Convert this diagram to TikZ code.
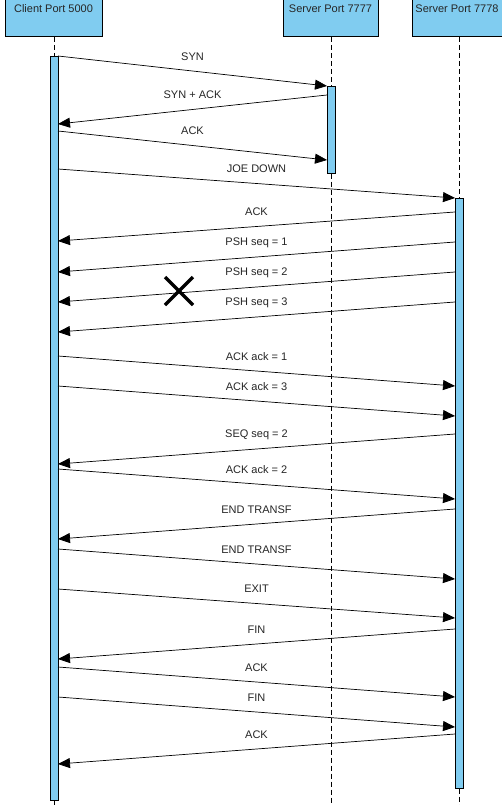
\documentclass[tikz,border=0pt]{standalone}
\usepackage{fontspec}
\setmainfont{Liberation Sans}
\usetikzlibrary{arrows.meta}
\definecolor{lifeblue}{RGB}{128,204,240}
\begin{document}
\begin{tikzpicture}[x=1bp,y=-1bp,
  head/.style={draw=black, fill=lifeblue, line width=0.8bp, inner sep=0pt, anchor=north west},
  headlabel/.style={font=\fontsize{11bp}{13bp}\selectfont, text=black!85, inner sep=0pt},
  bar/.style={draw=black, fill=lifeblue, line width=0.6bp, inner sep=0pt, minimum width=8bp, anchor=north},
  lifeline/.style={draw=black, line width=0.7bp, dash pattern=on 5bp off 3bp},
  msg/.style={draw=black, line width=0.7bp, -{Triangle[length=12bp,width=10bp]}},
  lbl/.style={midway, yshift=14.5bp, font=\fontsize{11bp}{13bp}\selectfont, text=black!85, inner sep=0pt},
  lost/.style={draw=black, line width=3.5bp}
]
\useasboundingbox (0,0) rectangle (502,805);
\fill[white] (0,0) rectangle (502,805);

% heads
\node[head, minimum width=97bp, minimum height=39bp] (hc) at (5,-3) {};
\node[head, minimum width=95bp, minimum height=39bp] (h7) at (283,-3) {};
\node[head, minimum width=95bp, minimum height=39bp] (h8) at (412,-3) {};
\node[headlabel] (tc) at (53.5,9) {Client Port 5000};
\node[headlabel] (t7) at (330.5,9) {Server Port 7777};
\node[headlabel] (t8) at (457,9) {Server Port 7778};

% bottoms of lifelines
\coordinate (cend) at (54,806);
\coordinate (s7end) at (331,806);
\coordinate (s8end) at (459,806);

% activation bars
\node[bar, minimum height=744bp] (bc) at (54,56) {};
\node[bar, minimum height=87bp] (b7) at (331,86) {};
\node[bar, minimum height=590bp] (b8) at (459,198) {};

% lifelines
\draw[lifeline] (hc.south -| bc.north) -- (bc.north);
\draw[lifeline] (bc.south) -- (cend);
\draw[lifeline] (h7.south -| b7.north) -- (b7.north);
\draw[lifeline] (b7.south) -- (s7end);
\draw[lifeline] (h8.south -| b8.north) -- (b8.north);
\draw[lifeline] (b8.south) -- (s8end);

% message end points (client edge x=58, 7777 edge x=327, 7778 edge x=455)
\coordinate (a1) at (58,56);   \coordinate (z1) at (327,86);
\coordinate (a2) at (327,95);  \coordinate (z2) at (58,124);
\coordinate (a3) at (58,131);  \coordinate (z3) at (327,160);
\coordinate (a4) at (58,169);  \coordinate (z4) at (455,198);
\coordinate (a5) at (455,212); \coordinate (z5) at (58,241);
\coordinate (a6) at (455,242); \coordinate (z6) at (58,272);
\coordinate (a7) at (455,272); \coordinate (z7) at (58,302);
\coordinate (a8) at (455,302); \coordinate (z8) at (58,332);
\coordinate (a9) at (58,356);  \coordinate (z9) at (455,386);
\coordinate (a10) at (58,386); \coordinate (z10) at (455,416);
\coordinate (a11) at (455,434); \coordinate (z11) at (58,464);
\coordinate (a12) at (58,469); \coordinate (z12) at (455,499);
\coordinate (a13) at (455,509); \coordinate (z13) at (58,539);
\coordinate (a14) at (58,549); \coordinate (z14) at (455,579);
\coordinate (a15) at (58,589); \coordinate (z15) at (455,618);
\coordinate (a16) at (455,629); \coordinate (z16) at (58,659);
\coordinate (a17) at (58,667); \coordinate (z17) at (455,697);
\coordinate (a18) at (58,697); \coordinate (z18) at (455,727);
\coordinate (a19) at (455,734); \coordinate (z19) at (58,764);

\draw[msg] (a1) -- node[lbl]{SYN} (z1);
\draw[msg] (a2) -- node[lbl]{SYN + ACK} (z2);
\draw[msg] (a3) -- node[lbl]{ACK} (z3);
\draw[msg] (a4) -- node[lbl]{JOE DOWN} (z4);
\draw[msg] (a5) -- node[lbl]{ACK} (z5);
\draw[msg] (a6) -- node[lbl]{PSH seq = 1} (z6);
\draw[msg] (a7) -- node[lbl]{PSH seq = 2} (z7);
\draw[msg] (a8) -- node[lbl]{PSH seq = 3} (z8);
\draw[msg] (a9) -- node[lbl]{ACK ack = 1} (z9);
\draw[msg] (a10) -- node[lbl]{ACK ack = 3} (z10);
\draw[msg] (a11) -- node[lbl]{SEQ seq = 2} (z11);
\draw[msg] (a12) -- node[lbl]{ACK ack = 2} (z12);
\draw[msg] (a13) -- node[lbl]{END TRANSF} (z13);
\draw[msg] (a14) -- node[lbl]{END TRANSF} (z14);
\draw[msg] (a15) -- node[lbl]{EXIT} (z15);
\draw[msg] (a16) -- node[lbl]{FIN} (z16);
\draw[msg] (a17) -- node[lbl]{ACK} (z17);
\draw[msg] (a18) -- node[lbl]{FIN} (z18);
\draw[msg] (a19) -- node[lbl]{ACK} (z19);

% lost message mark
\draw[lost] (165,277) -- (193,305);
\draw[lost] (193,277) -- (165,305);
\end{tikzpicture}
\end{document}
